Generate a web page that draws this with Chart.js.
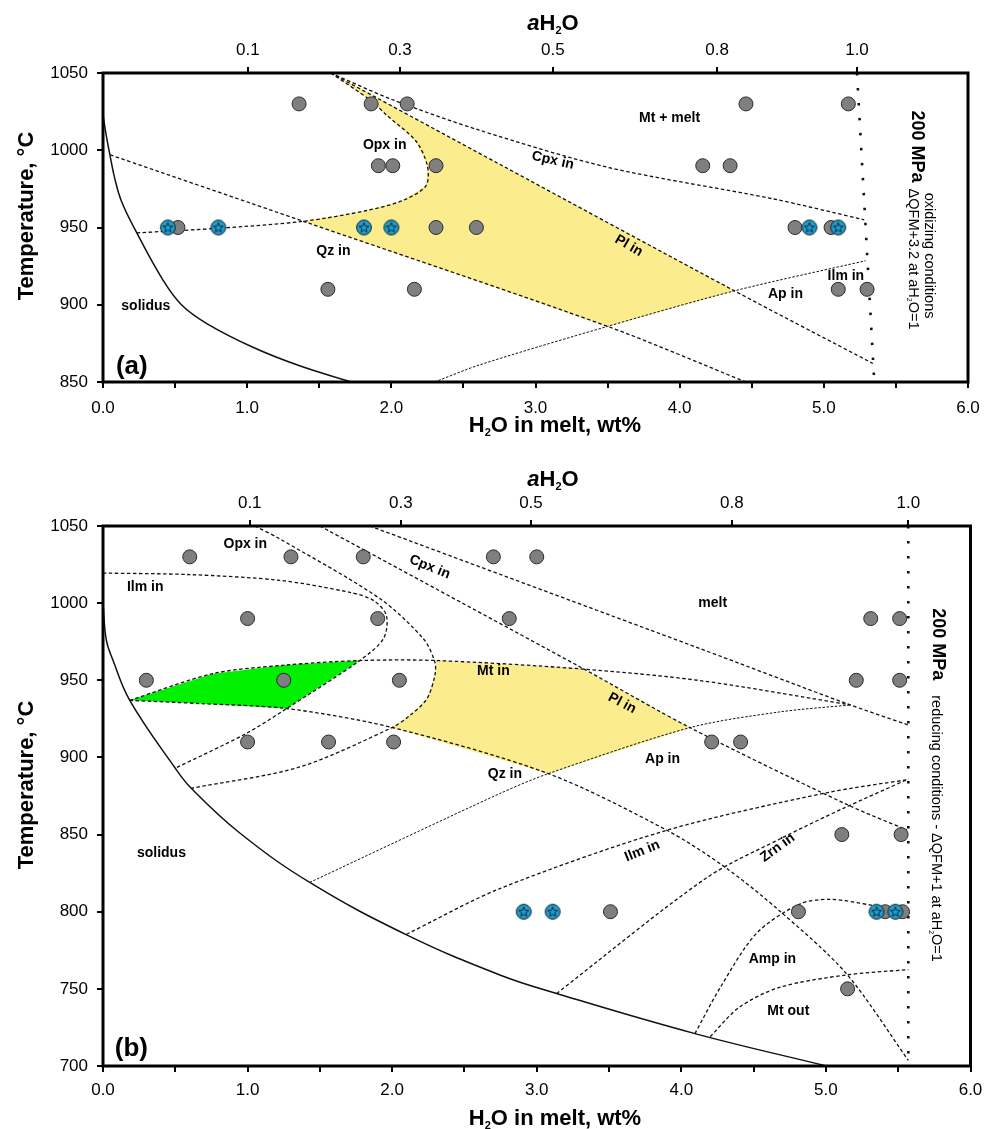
<!DOCTYPE html>
<html>
<head>
<meta charset="utf-8">
<script src="https://cdn.jsdelivr.net/npm/chart.js@4.4.1/dist/chart.umd.min.js"></script>
<style>
  html, body { margin: 0; padding: 0; background: #fff; }
  canvas { display: block; }
</style>
</head>
<body>
<canvas id="chartA" width="994" height="440"></canvas>
<canvas id="chartB" width="994" height="689"></canvas>
<script>
const FONT = '"Liberation Sans", Arial, Helvetica, sans-serif';

// aH2O ticks on the top axis, placed at the H2O content they stand for
const aH2OLabels = ['0.1', '0.3', '0.5', '0.8', '1.0'];
const aTopTicks = [1.005, 2.06, 3.12, 4.26, 5.23];
const bTopTicks = [1.015, 2.06, 2.96, 4.35, 5.57];

// ---- panel (a): oxidizing, dQFM+3.2 ----
const aGray = [
  [1.36, 1030], [1.86, 1030], [2.11, 1030], [4.46, 1030], [5.17, 1030],
  [1.91, 990], [2.01, 990], [2.31, 990], [4.16, 990], [4.35, 990],
  [0.52, 950], [2.31, 950], [2.59, 950], [4.80, 950], [5.05, 950],
  [1.56, 910], [2.16, 910], [5.10, 910], [5.30, 910]
];
const aStar = [[0.45, 950], [0.80, 950], [1.81, 950], [2.00, 950], [4.90, 950], [5.10, 950]];
const aSolidus = [[0, 1023], [0.02, 1011], [0.046, 998], [0.081, 982], [0.128, 967], [0.232, 947],
  [0.416, 916], [0.544, 900], [0.717, 888], [1.04, 872.5], [1.364, 860.5], [1.722, 850]];
const aQz = [[0.05, 997], [1.39, 954], [3.50, 886], [4.46, 850]];
const aOpx = [[1.58, 1050], [1.86, 1032], [1.97, 1022.5], [2.17, 1006], [2.25, 990], [2.24, 977],
  [2.08, 967.5], [1.83, 961], [1.39, 954], [0.80, 949.5], [0.23, 946.5]];
const aPl = [[1.58, 1050], [2.75, 991], [4.38, 909], [5.34, 862]];
const aCpx = [[1.58, 1050], [2.00, 1033], [2.61, 1013], [3.50, 989], [4.65, 968.5], [5.28, 955]];
const aAp = [[2.30, 850], [2.61, 861], [3.50, 886], [4.38, 909], [5.29, 928.5]];
const aWater = [[5.23, 1050], [5.35, 850]];
const aYellow = [[1.58, 1050], [2.75, 991], [4.38, 909], [3.50, 886], [1.39, 954], [1.83, 961],
  [2.08, 967.5], [2.24, 977], [2.25, 990], [2.17, 1006], [1.97, 1022.5], [1.86, 1032], [1.58, 1050]];

// ---- panel (b): reducing, dQFM+1 ----
const bGray = [
  [0.60, 1030], [1.30, 1030], [1.80, 1030], [2.70, 1030], [3.00, 1030],
  [1.00, 990], [1.90, 990], [2.81, 990], [5.31, 990], [5.51, 990],
  [0.30, 950], [1.25, 950], [2.05, 950], [5.21, 950], [5.51, 950],
  [1.00, 910], [1.56, 910], [2.01, 910], [4.21, 910], [4.41, 910],
  [5.11, 850], [5.52, 850],
  [3.51, 800], [4.81, 800], [5.41, 800], [5.53, 800],
  [5.15, 750]
];
const bStar = [[2.91, 800], [3.11, 800], [5.35, 800], [5.48, 800]];
const bSolidus = [[0, 1000], [0.023, 976], [0.069, 963], [0.185, 937], [0.5, 893], [0.61, 880],
  [0.946, 851], [1.43, 819], [2.1, 785], [2.745, 759], [3.137, 747], [4.094, 721], [5.005, 700]];
const bIlmUp = [[0, 1019.5], [0.6, 1018.5], [1.22, 1014.8], [1.707, 1007], [1.87, 1001.8], [1.96, 992],
  [1.94, 977], [1.776, 962.8], [1.27, 931.7], [0.99, 915.5], [0.5, 893]];
const bOpx = [[1.05, 1050], [1.22, 1041.8], [1.914, 1003], [2.215, 977], [2.295, 962], [2.295, 953],
  [2.24, 938], [2.12, 927], [2.0, 919.4], [1.36, 893.8], [0.61, 880]];
const bPl = [[1.5, 1050], [3.32, 957.6], [4.06, 919.3], [5.14, 869.7], [5.56, 853]];
const bCpx = [[1.845, 1050], [4.13, 970.5], [5.14, 935], [5.57, 921]];
const bMt = [[0.185, 937], [0.76, 954.3], [1.245, 959.7], [1.776, 962.8], [2.307, 962.8], [3.3, 957.4],
  [4.13, 949.8], [5.17, 934]];
const bQz = [[0.185, 937], [0.67, 934.9], [1.27, 931.7], [2.0, 919.4], [3.08, 889.5], [3.9, 852.8],
  [4.3, 829], [4.68, 800.5], [5.14, 760], [5.57, 703.7]];
const bAp = [[1.43, 819], [2.745, 876.6], [3.08, 889.5], [4.06, 919.3], [4.68, 929.5], [5.17, 934]];
const bIlmLow = [[2.1, 785.4], [2.745, 815], [3.9, 852.8], [5.0, 877], [5.57, 885.7]];
const bZrn = [[3.137, 747], [4.175, 822], [4.7, 848], [5.12, 867], [5.57, 886]];
const bAmp = [[4.094, 721], [4.27, 751], [4.52, 786], [4.82, 805], [5.03, 808], [5.33, 804], [5.55, 800]];
const bMtOut = [[4.2, 719], [4.4, 738], [4.68, 751], [5.14, 759], [5.57, 762.5]];
const bWater = [[5.57, 1050], [5.57, 700]];
const bYellow = [[2.0, 919.4], [2.12, 927], [2.24, 938], [2.295, 953], [2.307, 962.8], [3.31, 957.6],
  [4.06, 919.3], [3.08, 889.5], [2.0, 919.4]];
const bGreen = [[0.185, 937], [0.76, 954.3], [1.245, 959.7], [1.776, 962.8], [1.27, 931.7],
  [0.67, 934.9], [0.185, 937]];

// text placed in data units
const aLabels = [
  { t: 'Opx in', x: 1.954, y: 1003.6 },
  { t: 'Mt + melt', x: 3.93, y: 1020.9 },
  { t: 'Cpx in', x: 3.12, y: 993.4, r: 13 },
  { t: 'Qz in', x: 1.598, y: 934.5 },
  { t: 'Pl in', x: 3.647, y: 938.2, r: 30 },
  { t: 'Ap in', x: 4.734, y: 907.1 },
  { t: 'Ilm in', x: 5.153, y: 918.2 },
  { t: 'solidus', x: 0.297, y: 898.8 },
  { t: '(a)', x: 0.2, y: 859.7, size: 26 }
];
const bLabels = [
  { t: 'Opx in', x: 0.984, y: 1038.1 },
  { t: 'Ilm in', x: 0.292, y: 1010.1 },
  { t: 'Cpx in', x: 2.26, y: 1023.4, r: 22 },
  { t: 'melt', x: 4.217, y: 999.7 },
  { t: 'Mt in', x: 2.70, y: 956 },
  { t: 'Pl in', x: 3.59, y: 935.1, r: 28 },
  { t: 'Qz in', x: 2.78, y: 889 },
  { t: 'Ap in', x: 3.87, y: 898.8 },
  { t: 'Ilm in', x: 3.73, y: 839.3, r: -22 },
  { t: 'Zrn in', x: 4.666, y: 841.5, r: -36 },
  { t: 'solidus', x: 0.404, y: 838.2 },
  { t: 'Amp in', x: 4.63, y: 769 },
  { t: 'Mt out', x: 4.74, y: 735.6 },
  { t: '(b)', x: 0.196, y: 710.9, size: 26 }
];
const aNotes = [
  { runs: [['200 MPa', '']], weight: 'bold', size: 18, x: 5.615, y: 1025.8 },
  { runs: [['oxidizing conditions', '']], weight: 'normal', size: 14.5, x: 5.70, y: 972.5 },
  { runs: [['\u0394QFM+3.2 at aH', ''], ['2', 'sub'], ['O=1', '']], weight: 'normal', size: 14.5, x: 5.594, y: 975.2 }
];
const bNotes = [
  { runs: [['200 MPa', '']], weight: 'bold', size: 18, x: 5.744, y: 996.7 },
  { runs: [['reducing conditions - \u0394QFM+1 at aH', ''], ['2', 'sub'], ['O=1', '']], weight: 'normal', size: 14.5, x: 5.735, y: 940.3 }
];

function pts(arr) { return arr.map(([x, y]) => ({ x, y })); }

function makeStar() {
  const c = document.createElement('canvas');
  c.width = 18; c.height = 18;
  const g = c.getContext('2d');
  g.beginPath(); g.arc(9, 9, 7.4, 0, Math.PI * 2);
  g.fillStyle = '#18a0d6'; g.fill();
  g.lineWidth = 1; g.strokeStyle = '#1a1a1a'; g.stroke();
  g.beginPath();
  for (let k = 0; k < 10; k++) {
    const r = k % 2 ? 2.2 : 5.2;
    const a = -Math.PI / 2 + k * Math.PI / 5;
    const px = 9 + r * Math.cos(a), py = 9.3 + r * Math.sin(a);
    if (k === 0) g.moveTo(px, py); else g.lineTo(px, py);
  }
  g.closePath(); g.lineWidth = 0.9; g.stroke();
  return c;
}
const starImg = makeStar();

function curve(arr, extra) {
  return Object.assign({
    data: pts(arr), borderColor: '#111', borderWidth: 1.3, borderDash: [3.5, 2.5],
    pointRadius: 0, fill: false, tension: 0.3, order: 3
  }, extra || {});
}
function area(arr, color) {
  return { data: pts(arr), borderWidth: 0, borderColor: 'transparent', backgroundColor: color,
    fill: 'shape', pointRadius: 0, tension: 0, order: 5 };
}
function grayPts(arr) {
  return { data: pts(arr), showLine: false, pointRadius: 7, pointBackgroundColor: '#7f7f7f',
    pointBorderColor: '#2b2b2b', pointBorderWidth: 1, order: 1 };
}
function starPts(arr) {
  return { data: pts(arr), showLine: false, pointStyle: starImg, pointRadius: 8, order: 0 };
}
const solid = { borderDash: [], borderWidth: 1.5, tension: 0.4 };
const dotted = { borderDash: [2.5, 12.5], borderWidth: 2.6, tension: 0 };
const fine = { borderDash: [2.5, 1.6], borderWidth: 1 };

function runFont(kind, size, weight) {
  const s = kind === 'sub' ? Math.round(size * 0.5) : size;
  return (kind === 'i' ? 'italic ' : '') + weight + ' ' + s + 'px ' + FONT;
}
function drawRuns(ctx, runs, x, y, size, weight, align) {
  let w = 0;
  runs.forEach(([t, k]) => { ctx.font = runFont(k, size, weight); w += ctx.measureText(t).width; });
  let cx = align === 'center' ? x - w / 2 : x;
  ctx.textAlign = 'left';
  ctx.textBaseline = 'alphabetic';
  runs.forEach(([t, k]) => {
    ctx.font = runFont(k, size, weight);
    ctx.fillText(t, cx, k === 'sub' ? y + size * 0.2 : y);
    cx += ctx.measureText(t).width;
  });
}

function textPlugin(cfg) {
  return {
    id: 'phaseText',
    afterDatasetsDraw(chart) {
      const { ctx, chartArea: a, scales: { x, y } } = chart;
      ctx.save();
      ctx.fillStyle = '#000';
      cfg.labels.forEach(l => {
        ctx.save();
        ctx.translate(x.getPixelForValue(l.x), y.getPixelForValue(l.y));
        ctx.rotate((l.r || 0) * Math.PI / 180);
        ctx.font = 'bold ' + (l.size || 14) + 'px ' + FONT;
        ctx.textAlign = 'center';
        ctx.textBaseline = 'middle';
        ctx.fillText(l.t, 0, 0);
        ctx.restore();
      });
      cfg.notes.forEach(n => {
        ctx.save();
        ctx.translate(x.getPixelForValue(n.x), y.getPixelForValue(n.y));
        ctx.rotate(Math.PI / 2);
        drawRuns(ctx, n.runs, 0, 0, n.size, n.weight, 'left');
        ctx.restore();
      });
      ctx.lineWidth = 3;
      ctx.strokeStyle = '#000';
      ctx.strokeRect(a.left, a.top, a.right - a.left, a.bottom - a.top);
      ctx.restore();
    },
    afterDraw(chart) {
      const { ctx } = chart;
      ctx.save();
      ctx.fillStyle = '#000';
      drawRuns(ctx, [['a', 'i'], ['H', ''], ['2', 'sub'], ['O', '']], 553, cfg.topTitleY, 22, 'bold', 'center');
      drawRuns(ctx, [['H', ''], ['2', 'sub'], ['O in melt, wt%', '']], 555, cfg.bottomTitleY, 22, 'bold', 'center');
      ctx.translate(32.5, cfg.leftTitleY);
      ctx.rotate(-Math.PI / 2);
      drawRuns(ctx, [['Temperature, \u00B0C', '']], 0, 0, 22, 'bold', 'center');
      ctx.restore();
    }
  };
}

function makeChart(id, cfg) {
  const tickFont = { family: FONT, size: 17 };
  const tickGrid = { drawOnChartArea: false, drawTicks: true, tickLength: 6, color: '#000', lineWidth: 2 };
  return new Chart(document.getElementById(id), {
    type: 'line',
    data: { datasets: cfg.datasets },
    options: {
      responsive: false,
      animation: false,
      devicePixelRatio: 1,
      layout: { padding: { left: 0, top: 0, bottom: 0, right: cfg.padRight } },
      plugins: { legend: { display: false }, tooltip: { enabled: false } },
      scales: {
        x: {
          type: 'linear', position: 'bottom', min: 0, max: 6,
          ticks: { stepSize: 0.5, autoSkip: false, maxRotation: 0, padding: cfg.xPad, color: '#000', font: tickFont,
            callback: v => (Math.abs(v - Math.round(v)) < 1e-9 ? v.toFixed(1) : '') },
          grid: tickGrid, border: { display: false },
          afterFit: s => { s.height = cfg.bottomH; }
        },
        x2: {
          type: 'linear', position: 'top', min: 0, max: 6,
          afterBuildTicks: s => { s.ticks = cfg.topTicks.map(v => ({ value: v })); },
          ticks: { autoSkip: false, maxRotation: 0, padding: 6, color: '#000', font: tickFont,
            callback: (v, i) => aH2OLabels[i] },
          grid: tickGrid, border: { display: false },
          afterFit: s => { s.height = cfg.topH; }
        },
        y: {
          type: 'linear', position: 'left', min: cfg.yMin, max: 1050,
          ticks: { stepSize: 50, padding: 9, color: '#000', font: tickFont, callback: v => String(v) },
          grid: tickGrid, border: { display: false },
          afterFit: s => { s.width = 103; }
        }
      }
    },
    plugins: [textPlugin(cfg)]
  });
}

makeChart('chartA', {
  yMin: 850, topH: 73, bottomH: 58, padRight: 26, xPad: 10,
  topTicks: aTopTicks, topTitleY: 29.5, bottomTitleY: 432, leftTitleY: 216,
  labels: aLabels, notes: aNotes,
  datasets: [
    area(aYellow, '#fbed8e'),
    curve(aSolidus, solid),
    curve(aQz), curve(aOpx), curve(aPl), curve(aCpx),
    curve(aAp, fine),
    curve(aWater, dotted),
    grayPts(aGray),
    starPts(aStar)
  ]
});

makeChart('chartB', {
  yMin: 700, topH: 86, bottomH: 63, padRight: 23.5, xPad: 8,
  topTicks: bTopTicks, topTitleY: 45.7, bottomTitleY: 684.5, leftTitleY: 345,
  labels: bLabels, notes: bNotes,
  datasets: [
    area(bYellow, '#fbed8e'),
    area(bGreen, '#00f000'),
    curve(bSolidus, solid),
    curve(bIlmUp), curve(bOpx), curve(bPl), curve(bCpx), curve(bMt), curve(bQz),
    curve(bAp, fine), curve(bIlmLow), curve(bZrn), curve(bAmp), curve(bMtOut),
    curve(bWater, dotted),
    grayPts(bGray),
    starPts(bStar)
  ]
});
</script>
</body>
</html>
